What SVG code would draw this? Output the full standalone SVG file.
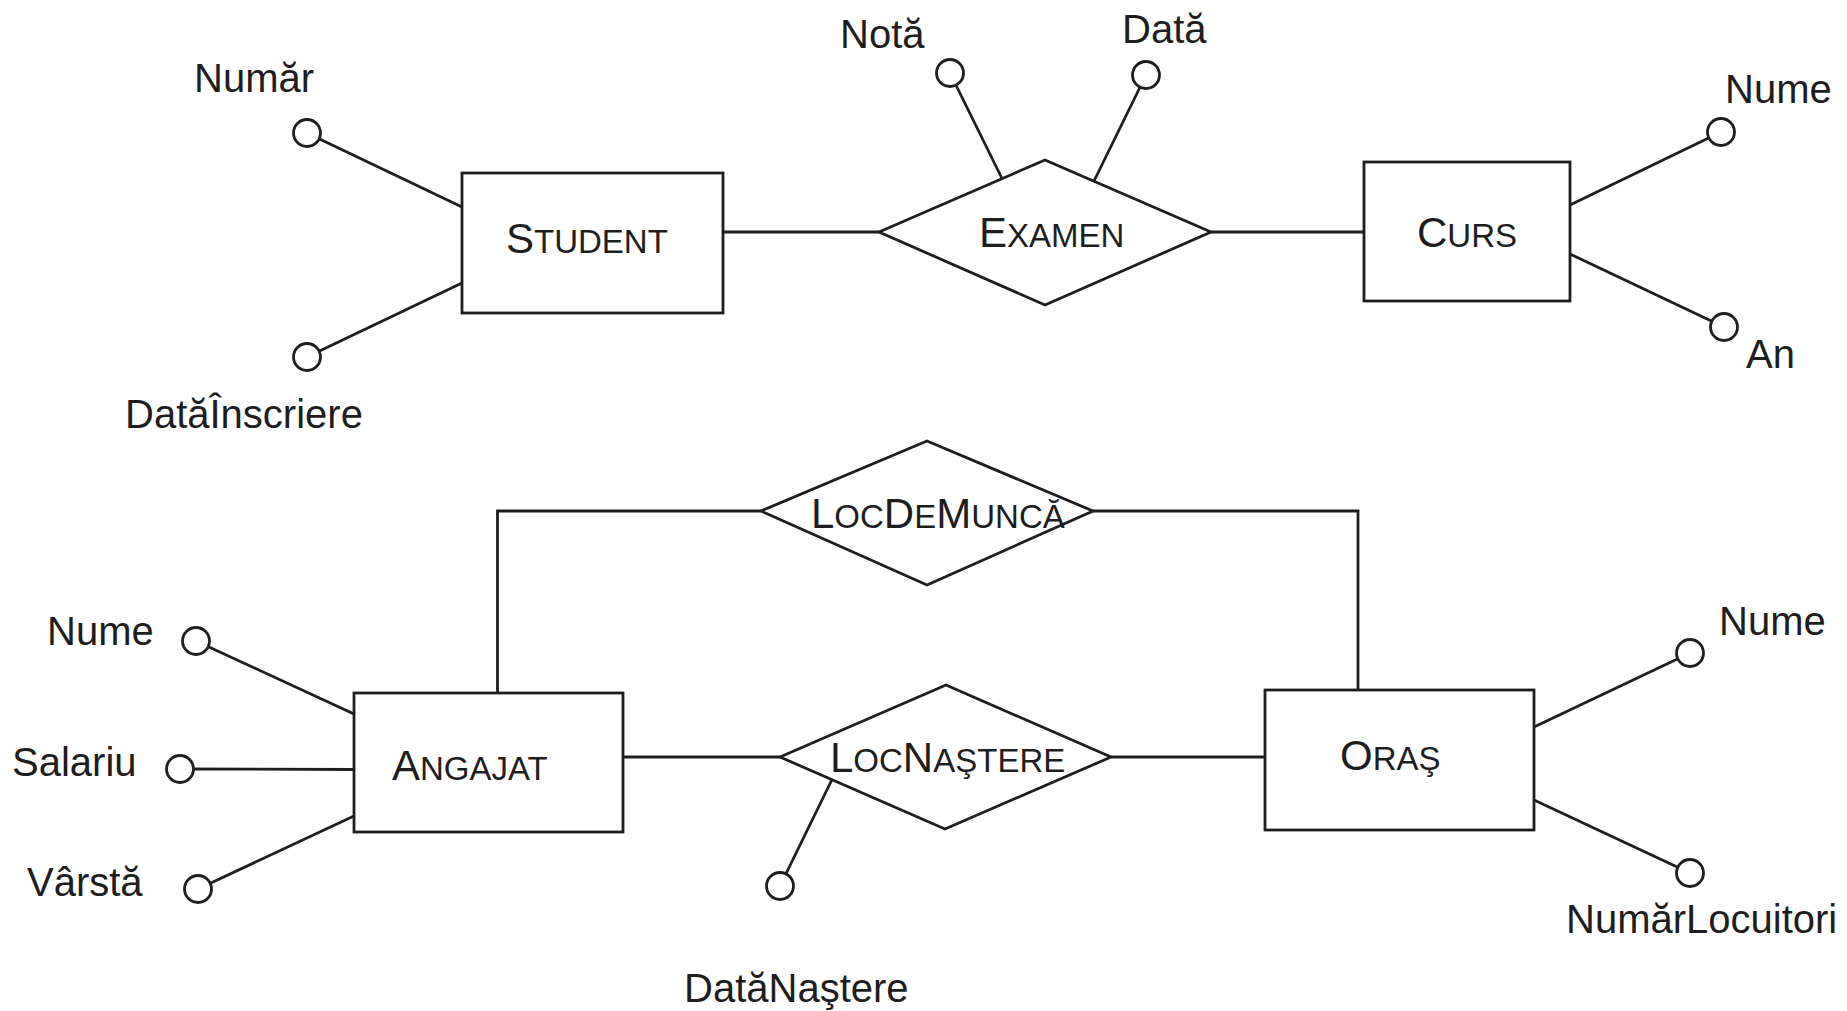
<svg xmlns="http://www.w3.org/2000/svg" width="1847" height="1011" viewBox="0 0 1847 1011">
  <style>
    .shape { fill: #ffffff; stroke: #1e1e1e; stroke-width: 2.8; }
    .conn { fill: none; stroke: #1e1e1e; stroke-width: 2.8; }
    text { font-family: "Liberation Sans", Arial, Helvetica, sans-serif; fill: #1e1e1e; }
    .lbl { font-size: 40px; }
    .big { font-size: 42px; }
    .sm { font-size: 33px; }
  </style>
  <defs>
    <circle id="attr-dot" r="13.5" class="shape"/>
  </defs>

  <rect width="1847" height="1011" fill="#ffffff"/>

  <!-- connectors: relationships and attribute links -->
  <g id="connectors">
    <line class="conn" x1="723" y1="232" x2="879" y2="232"/>
    <line class="conn" x1="1211" y1="232" x2="1364" y2="232"/>
    <polyline class="conn" points="497.5,693 497.5,511 761,511"/>
    <polyline class="conn" points="1093,511 1358,511 1358,690"/>
    <line class="conn" x1="623" y1="757" x2="780" y2="757"/>
    <line class="conn" x1="1111" y1="757" x2="1265" y2="757"/>

    <line class="conn" x1="307" y1="133" x2="462" y2="207"/>
    <line class="conn" x1="307" y1="357" x2="462" y2="283"/>
    <line class="conn" x1="950" y1="73" x2="1002" y2="178.5"/>
    <line class="conn" x1="1146" y1="75" x2="1094" y2="181"/>
    <line class="conn" x1="1721" y1="132" x2="1570" y2="205"/>
    <line class="conn" x1="1724" y1="327" x2="1570" y2="254"/>
    <line class="conn" x1="196" y1="641" x2="354" y2="714"/>
    <line class="conn" x1="180" y1="769" x2="354" y2="769.5"/>
    <line class="conn" x1="198" y1="889" x2="354" y2="816"/>
    <line class="conn" x1="780" y1="886" x2="832" y2="779.5"/>
    <line class="conn" x1="1690" y1="653" x2="1534" y2="727"/>
    <line class="conn" x1="1690" y1="873" x2="1534" y2="800"/>
  </g>

  <!-- entities -->
  <g id="student">
    <rect class="shape" x="462" y="173" width="261" height="140"/>
    <text x="506" y="253"><tspan class="big">S</tspan><tspan class="sm">TUDENT</tspan></text>
  </g>
  <g id="curs">
    <rect class="shape" x="1364" y="162" width="206" height="139"/>
    <text x="1417" y="247"><tspan class="big">C</tspan><tspan class="sm">URS</tspan></text>
  </g>
  <g id="angajat">
    <rect class="shape" x="354" y="693" width="269" height="139"/>
    <text x="392" y="780"><tspan class="big">A</tspan><tspan class="sm">NGAJAT</tspan></text>
  </g>
  <g id="oras">
    <rect class="shape" x="1265" y="690" width="269" height="140"/>
    <text x="1340" y="770"><tspan class="big">O</tspan><tspan class="sm">RAŞ</tspan></text>
  </g>

  <!-- relationships -->
  <g id="examen">
    <polygon class="shape" points="879,232 1045,160 1211,232 1045,305"/>
    <text x="979" y="247"><tspan class="big">E</tspan><tspan class="sm">XAMEN</tspan></text>
  </g>
  <g id="loc-de-munca">
    <polygon class="shape" points="761,511 927,441 1093,511 927,585"/>
    <text x="811" y="528"><tspan class="big">L</tspan><tspan class="sm">OC</tspan><tspan class="big">D</tspan><tspan class="sm">E</tspan><tspan class="big">M</tspan><tspan class="sm">UNCĂ</tspan></text>
  </g>
  <g id="loc-nastere">
    <polygon class="shape" points="780,757 946,685 1111,757 945,829"/>
    <text x="830" y="772"><tspan class="big">L</tspan><tspan class="sm">OC</tspan><tspan class="big">N</tspan><tspan class="sm">AŞTERE</tspan></text>
  </g>

  <!-- attributes -->
  <g id="student-numar"><use href="#attr-dot" x="307" y="133"/><text class="lbl" x="194" y="92">Număr</text></g>
  <g id="student-data-inscriere"><use href="#attr-dot" x="307" y="357"/><text class="lbl" x="125" y="428">DatăÎnscriere</text></g>
  <g id="examen-nota"><use href="#attr-dot" x="950" y="73"/><text class="lbl" x="840" y="48">Notă</text></g>
  <g id="examen-data"><use href="#attr-dot" x="1146" y="75"/><text class="lbl" x="1122" y="43">Dată</text></g>
  <g id="curs-nume"><use href="#attr-dot" x="1721" y="132"/><text class="lbl" x="1725" y="103">Nume</text></g>
  <g id="curs-an"><use href="#attr-dot" x="1724" y="327"/><text class="lbl" x="1746" y="368">An</text></g>
  <g id="angajat-nume"><use href="#attr-dot" x="196" y="641"/><text class="lbl" x="47" y="645">Nume</text></g>
  <g id="angajat-salariu"><use href="#attr-dot" x="180" y="769"/><text class="lbl" x="12" y="776">Salariu</text></g>
  <g id="angajat-varsta"><use href="#attr-dot" x="198" y="889"/><text class="lbl" x="27" y="896">Vârstă</text></g>
  <g id="nastere-data"><use href="#attr-dot" x="780" y="886"/><text class="lbl" x="684" y="1002">DatăNaştere</text></g>
  <g id="oras-nume"><use href="#attr-dot" x="1690" y="653"/><text class="lbl" x="1719" y="635">Nume</text></g>
  <g id="oras-numar-locuitori"><use href="#attr-dot" x="1690" y="873"/><text class="lbl" x="1566" y="933">NumărLocuitori</text></g>
</svg>
